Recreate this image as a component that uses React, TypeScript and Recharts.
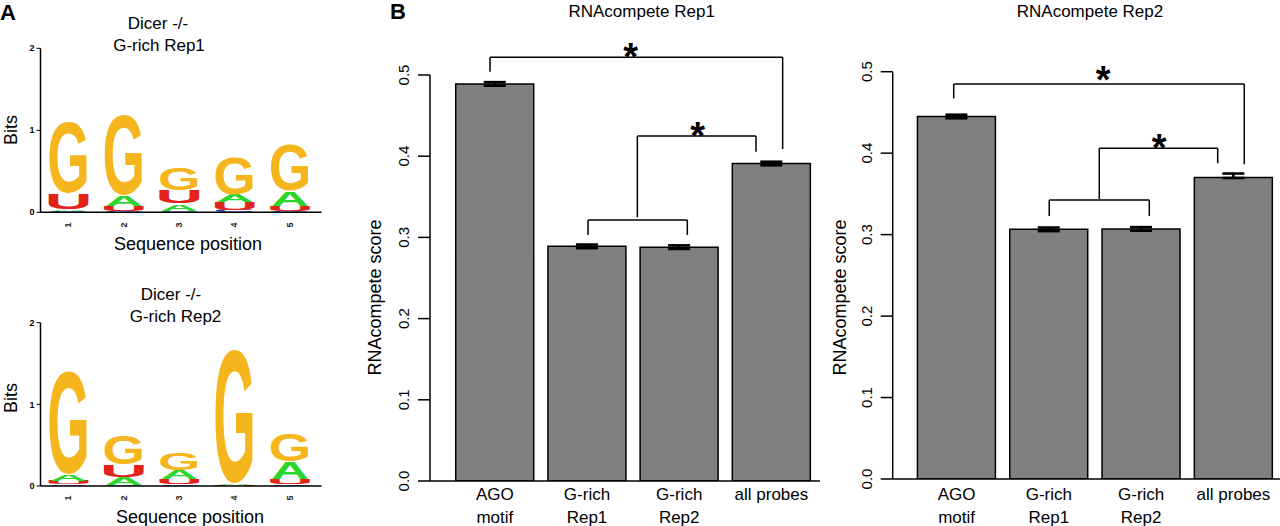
import React from 'react';
import { BarChart, Bar, XAxis, YAxis, ErrorBar, ReferenceLine, ReferenceDot } from 'recharts';

const FONT = '"Liberation Sans", Arial, Helvetica, sans-serif';
const W = 1280;
const H = 526;

// ---------- Panel B data ----------
const categoryLabels = ['AGO\nmotif', 'G-rich\nRep1', 'G-rich\nRep2', 'all probes'];
const categoryPositions = [1, 2, 3, 4];
const scoreTicks = [0, 0.1, 0.2, 0.3, 0.4, 0.5];

const rep1Scores = [0.489, 0.289, 0.288, 0.391];
const rep1ErrLow = [0.0022, 0.0022, 0.0022, 0.0022];
const rep1ErrHigh = [0.0022, 0.0022, 0.0022, 0.0022];

const rep2Scores = [0.445, 0.3065, 0.307, 0.37];
const rep2ErrLow = [0.0022, 0.0022, 0.0022, 0.0005];
const rep2ErrHigh = [0.0022, 0.0022, 0.0022, 0.005];

type Bracket = { x1: number; x2: number; y: number; leg1: number; leg2: number };
const rep1Brackets: Bracket[] = [
  { x1: 0.948, x2: 4.122, y: 0.5218, leg1: 0.504, leg2: 0.4089 },
  { x1: 2.546, x2: 3.833, y: 0.4249, leg1: 0.3248, leg2: 0.4055 },
  { x1: 2.011, x2: 3.088, y: 0.3214, leg1: 0.303, leg2: 0.303 },
];
const rep1Stars = [{ x: 2.474, y: 0.533 }, { x: 3.201, y: 0.435 }];

const rep2Brackets: Bracket[] = [
  { x1: 0.969, x2: 4.117, y: 0.4849, leg1: 0.4673, leg2: 0.3863 },
  { x1: 2.546, x2: 3.829, y: 0.406, leg1: 0.3437, leg2: 0.3876 },
  { x1: 2.004, x2: 3.088, y: 0.3425, leg1: 0.3229, leg2: 0.3229 },
];
const rep2Stars = [{ x: 2.589, y: 0.5 }, { x: 3.196, y: 0.417 }];

// ---------- Panel A data (sequence logos, bottom -> top) ----------
const logoPositions = ['1', '2', '3', '4', '5'];
const logo1Letters = [
  ['C', 'A', 'U', 'G'],
  ['C', 'U', 'A', 'G'],
  ['C', 'A', 'U', 'G'],
  ['C', 'U', 'A', 'G'],
  ['C', 'U', 'A', 'G'],
];
const logo1Bits = [
  [0.02, 0.02, 0.19, 0.91],
  [0.02, 0.06, 0.13, 1.02],
  [0.02, 0.085, 0.16, 0.28],
  [0.03, 0.09, 0.094, 0.47],
  [0.02, 0.06, 0.18, 0.59],
];
const logo2Letters = [
  ['C', 'U', 'A', 'G'],
  ['C', 'A', 'U', 'G'],
  ['C', 'U', 'A', 'G'],
  ['C', 'U', 'A', 'G'],
  ['C', 'U', 'A', 'G'],
];
const logo2Bits = [
  [0.02, 0.04, 0.08, 1.31],
  [0.01, 0.1, 0.147, 0.375],
  [0.02, 0.065, 0.11, 0.224],
  [0.005, 0.01, 0.02, 1.71],
  [0.02, 0.07, 0.204, 0.347],
];
const bitTicks = [0, 1, 2];

const LETTER_COLORS: Record<string, string> = {
  G: '#F5B51C',
  U: '#E2231A',
  A: '#2BD62B',
  C: '#2040C8',
};
// ink metrics of Liberation Sans Bold glyphs at font-size 100
const GLYPH: Record<string, { lsb: number; w: number; top: number; bottom: number }> = {
  G: { lsb: 4.3, w: 69.5, top: 72.8, bottom: -1.4 },
  A: { lsb: 0, w: 72.2, top: 71.6, bottom: 0 },
  U: { lsb: 7.3, w: 57.6, top: 71.6, bottom: -1.4 },
  C: { lsb: 4.3, w: 63.2, top: 72.8, bottom: -1.4 },
};

const LetterShape = (props: any) => {
  const { x, y, width, height, payload, stackKey } = props;
  if (!height || height <= 0 || !width) return <g />;
  const k = Number(String(stackKey).slice(1));
  const letter = (payload && payload[`l${k}`]) || 'G';
  const g = GLYPH[letter];
  const sx = width / g.w;
  const sy = height / (g.top - g.bottom);
  const tx = x - g.lsb * sx;
  const ty = y + g.top * sy;
  return (
    <text
      transform={`translate(${tx},${ty}) scale(${sx},${sy})`}
      x={0}
      y={0}
      fontSize={100}
      fontWeight="bold"
      fontFamily={FONT}
      fill={LETTER_COLORS[letter]}
    >
      {letter}
    </text>
  );
};

const LogoXTick = (props: any) => {
  const { x, y, payload, dy } = props;
  return (
    <text
      transform={`translate(${x + 3},${y + dy}) rotate(-90)`}
      textAnchor="middle"
      fontSize={9}
      fontWeight="bold"
      fontFamily={FONT}
      fill="#222"
    >
      {payload.value}
    </text>
  );
};

function LogoPanel({ letters, bits, margin, tickDy }: any) {
  const data = logoPositions.map((pos, i) => {
    const row: any = { pos };
    for (let k = 0; k < 4; k++) {
      row[`s${k}`] = bits[i][k];
      row[`l${k}`] = letters[i][k];
    }
    return row;
  });
  return (
    <div style={{ position: 'absolute', left: 0, top: 0 }}>
      <BarChart width={W} height={H} data={data} margin={margin}>
        <XAxis
          dataKey="pos"
          type="category"
          padding={{ left: 0, right: 4 }}
          interval={0}
          tickLine={false}
          tickSize={0}
          tickMargin={0}
          height={20}
          axisLine={{ stroke: '#000', strokeWidth: 1.5 }}
          tick={<LogoXTick dy={tickDy} />}
        />
        <YAxis
          type="number"
          domain={[0, 2]}
          ticks={bitTicks}
          interval={0}
          width={20}
          tickSize={4}
          tickMargin={2}
          axisLine={{ stroke: '#000', strokeWidth: 1.5 }}
          tickLine={{ stroke: '#000', strokeWidth: 1 }}
          tick={{ fontSize: 9, fontWeight: 'bold', fill: '#000', fontFamily: FONT }}
        />
        {[0, 1, 2, 3].map((k) => (
          <Bar
            key={k}
            dataKey={`s${k}`}
            stackId="logo"
            barSize={38}
            isAnimationActive={false}
            shape={(p: any) => <LetterShape {...p} stackKey={`s${k}`} />}
          />
        ))}
      </BarChart>
    </div>
  );
}

const ScoreXTick = (props: any) => {
  const { x, y, payload, base } = props;
  const idx = categoryPositions.indexOf(payload.value);
  if (idx < 0) return <g />;
  const lines = categoryLabels[idx].split('\n');
  return (
    <text textAnchor="middle" fontSize={17} fontFamily={FONT} fill="#000">
      {lines.map((ln, i) => (
        <tspan key={i} x={x} y={y + base + i * 23}>
          {ln}
        </tspan>
      ))}
    </text>
  );
};

const ScoreYTick = (props: any) => {
  const { x, y, payload } = props;
  return (
    <text
      transform={`translate(${x - 9},${y}) rotate(-90)`}
      textAnchor="middle"
      fontSize={15}
      fontFamily={FONT}
      fill="#000"
    >
      {Number(payload.value).toFixed(1)}
    </text>
  );
};

const StarShape = (props: any) => {
  const { cx, cy } = props;
  const fs = 38;
  return (
    <text x={cx} y={cy + 0.57 * fs} textAnchor="middle" fontSize={fs} fontWeight="bold" fontFamily={FONT} fill="#000">
      *
    </text>
  );
};

function ScorePanel({ scores, errLow, errHigh, brackets, stars, margin, xDomain, base }: any) {
  const data = categoryPositions.map((pos, i) => ({
    pos,
    score: scores[i],
    err: [errLow[i], errHigh[i]],
  }));
  const line = { stroke: '#000', strokeWidth: 1.5 };
  return (
    <div style={{ position: 'absolute', left: 0, top: 0 }}>
      <BarChart width={W} height={H} data={data} margin={margin}>
        <XAxis
          type="number"
          dataKey="pos"
          domain={xDomain}
          allowDataOverflow
          ticks={categoryPositions}
          interval={0}
          tickSize={0}
          tickMargin={0}
          tickLine={false}
          height={40}
          axisLine={line}
          tick={<ScoreXTick base={base} />}
        />
        <YAxis
          type="number"
          domain={[0, 0.56]}
          allowDataOverflow
          ticks={scoreTicks}
          interval={0}
          width={60}
          tickSize={12}
          tickMargin={0}
          axisLine={false}
          tickLine={line}
          tick={<ScoreYTick />}
        />
        <Bar dataKey="score" fill="#808080" stroke="#000" strokeWidth={1.5} barSize={78} isAnimationActive={false}>
          <ErrorBar dataKey="err" direction="y" width={11} stroke="#000" strokeWidth={2.6} />
        </Bar>
        <ReferenceLine
          segment={[
            { x: xDomain[0], y: 0 },
            { x: xDomain[0], y: 0.5 },
          ]}
          {...line}
        />
        {brackets.map((b: Bracket, i: number) => (
          <ReferenceLine key={`h${i}`} segment={[{ x: b.x1, y: b.y }, { x: b.x2, y: b.y }]} {...line} />
        ))}
        {brackets.map((b: Bracket, i: number) => (
          <ReferenceLine key={`l${i}`} segment={[{ x: b.x1, y: b.leg1 }, { x: b.x1, y: b.y }]} {...line} />
        ))}
        {brackets.map((b: Bracket, i: number) => (
          <ReferenceLine key={`r${i}`} segment={[{ x: b.x2, y: b.leg2 }, { x: b.x2, y: b.y }]} {...line} />
        ))}
        {stars.map((s: any, i: number) => (
          <ReferenceDot key={`s${i}`} x={s.x} y={s.y} r={0} shape={StarShape} />
        ))}
      </BarChart>
    </div>
  );
}

export default function App() {
  const t = { fontFamily: FONT, fill: '#000' } as const;
  return (
    <div style={{ position: 'absolute', left: 0, top: 0, width: W, height: H, background: '#fff', overflow: 'hidden' }}>
      <LogoPanel
        letters={logo1Letters}
        bits={logo1Bits}
        margin={{ top: 48.3, right: W - 321.5, bottom: H - 212.3 - 20, left: 20.5 }}
        tickDy={12.7}
      />
      <LogoPanel
        letters={logo2Letters}
        bits={logo2Bits}
        margin={{ top: 322.7, right: W - 321.5, bottom: H - 486 - 20, left: 20.5 }}
        tickDy={12}
      />
      <ScorePanel
        scores={rep1Scores}
        errLow={rep1ErrLow}
        errHigh={rep1ErrHigh}
        brackets={rep1Brackets}
        stars={rep1Stars}
        xDomain={[0.297, 4.527]}
        base={19}
        margin={{ top: 481 - 0.56 * 812, right: W - 820, bottom: H - 481 - 40, left: 370 }}
      />
      <ScorePanel
        scores={rep2Scores}
        errLow={rep2ErrLow}
        errHigh={rep2ErrHigh}
        brackets={rep2Brackets}
        stars={rep2Stars}
        xDomain={[0.308, 4.504]}
        base={21}
        margin={{ top: 479 - 0.56 * 814.6, right: 0, bottom: H - 479 - 40, left: 892.7 - 60 }}
      />
      <svg width={W} height={H} style={{ position: 'absolute', left: 0, top: 0, pointerEvents: 'none' }}>
        <text x={0} y={20} fontSize={22} fontWeight="bold" {...t}>A</text>
        <text x={390} y={19} fontSize={22} fontWeight="bold" {...t}>B</text>

        <text x={158} y={28.5} fontSize={17} textAnchor="middle" {...t}>Dicer -/-</text>
        <text x={159} y={50.7} fontSize={17} textAnchor="middle" {...t}>G-rich Rep1</text>
        <text transform="translate(16.7,130) rotate(-90)" fontSize={18} textAnchor="middle" {...t}>Bits</text>
        <text x={188} y={250} fontSize={18} textAnchor="middle" {...t}>Sequence position</text>

        <text x={171} y={300} fontSize={17} textAnchor="middle" {...t}>Dicer -/-</text>
        <text x={175.5} y={321.7} fontSize={17} textAnchor="middle" {...t}>G-rich Rep2</text>
        <text transform="translate(16.7,398) rotate(-90)" fontSize={18} textAnchor="middle" {...t}>Bits</text>
        <text x={190} y={523.3} fontSize={18} textAnchor="middle" {...t}>Sequence position</text>

        <text x={641.7} y={17} fontSize={17} textAnchor="middle" {...t}>RNAcompete Rep1</text>
        <text x={1090} y={17} fontSize={17} textAnchor="middle" {...t}>RNAcompete Rep2</text>
        <text transform="translate(380.5,297.4) rotate(-90)" fontSize={18} textAnchor="middle" {...t}>RNAcompete score</text>
        <text transform="translate(845.5,297.4) rotate(-90)" fontSize={18} textAnchor="middle" {...t}>RNAcompete score</text>
      </svg>
    </div>
  );
}
